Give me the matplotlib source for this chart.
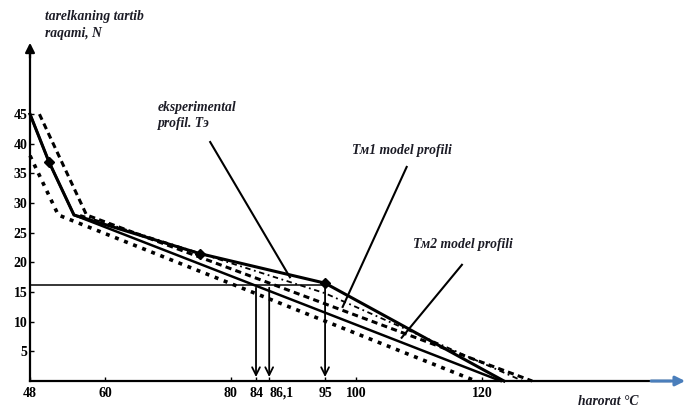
import matplotlib
matplotlib.use("Agg")
from matplotlib import pyplot as plt

# experimental profile (thick solid, diamond markers)
exp_t = [48, 51, 55, 75, 95, 123.5]
exp_n = [45, 37, 28, 21.5, 16.5, 0]
mark_t = [51, 75, 95]
mark_n = [37, 21.5, 16.5]

# second solid line
sol_t = [48, 51, 55, 123]
sol_n = [45, 37, 28, 0]

# model profiles
tm1_t = [49.5, 57, 128]
tm1_n = [45, 28, 0]
tm2_t = [48, 52.5, 119]
tm2_n = [38, 28, 0]
dd_t = [56, 95, 126.5]
dd_n = [28, 14.8, 0]

level_n = 16.2
arrow_t = [84, 86.1, 95]

xticks = [48, 60, 80, 84, 86.1, 95, 100, 120]
xlabels = ["48", "60", "80", "84", "86,1", "95", "100", "120"]
yticks = [5, 10, 15, 20, 25, 30, 35, 40, 45]

ink = "#1c1c26"
serif = "Liberation Serif"

fig = plt.figure(figsize=(6.89, 4.08), dpi=100)
ax = fig.add_axes([0, 0, 1, 1])
ax.set_xlim(43.22, 152.97)
ax.set_ylim(-4.55, 64.25)

for s in ["top", "right"]:
    ax.spines[s].set_visible(False)
ax.spines["left"].set_position(("data", 48))
ax.spines["bottom"].set_position(("data", 0))
ax.spines["left"].set_bounds(0, 55)
ax.spines["bottom"].set_bounds(48, 150)
ax.spines["left"].set_linewidth(1.6)
ax.spines["bottom"].set_linewidth(1.6)

ax.set_xticks(xticks)
ax.set_xticklabels(xlabels, fontfamily=serif, fontsize=10, fontweight="bold")
for lab in ax.get_xticklabels():
    if lab.get_text() == "86,1":
        lab.set_horizontalalignment("left")
ax.set_yticks(yticks)
ax.set_yticklabels([str(v) for v in yticks], fontfamily=serif, fontsize=10,
                   fontweight="bold")
ax.tick_params(axis="x", direction="in", length=3, width=1, pad=4)
ax.tick_params(axis="y", direction="in", length=3, width=1, pad=2)

# axis arrows
ax.annotate("", xy=(48, 57.5), xytext=(48, 54),
            arrowprops=dict(arrowstyle="-|>", color="black", lw=1.6,
                            mutation_scale=14))
ax.annotate("", xy=(152.8, 0), xytext=(146.5, 0),
            arrowprops=dict(arrowstyle="-|>", color="#4a7ebb", lw=2.2,
                            mutation_scale=14))

# curves
ax.plot(tm2_t, tm2_n, color="black", lw=2.6, linestyle=(0, (1.1, 1.6)))
ax.plot(tm1_t, tm1_n, color="black", lw=2.2, linestyle=(0, (2.0, 1.4)))
ax.plot(dd_t, dd_n, color="black", lw=1.3, linestyle=(0, (3, 2, 1, 2)))
ax.plot(sol_t, sol_n, color="black", lw=1.8)
ax.plot(exp_t, exp_n, color="black", lw=2.2)
ax.plot(mark_t, mark_n, linestyle="none", marker="D", markersize=5,
        color="black")

# level line and arrows down to axis
ax.plot([48, 95], [level_n, level_n], color="black", lw=1.1)
for t in arrow_t:
    ax.annotate("", xy=(t, 0.2), xytext=(t, level_n),
                arrowprops=dict(arrowstyle="->", color="black", lw=1.3,
                                mutation_scale=14))

# leader lines
ax.plot([76.7, 89.4], [40.3, 17.5], color="black", lw=1.5)
ax.plot([108.0, 97.8], [36.1, 12.5], color="black", lw=1.5)
ax.plot([116.8, 107.2], [19.6, 7.3], color="black", lw=1.5)

tkw = dict(fontfamily=serif, fontsize=9.8, fontweight="bold",
           fontstyle="italic", color=ink, va="top", ha="left",
           linespacing=1.35)
ax.text(50.4, 62.5, "tarelkaning tartib\nraqami, N", **tkw)
ax.text(68.4, 47.3, "eksperimental\nprofil. Tэ", **tkw)
ax.text(99.3, 39.9, "Тм1 model profili", **tkw)
ax.text(109.0, 24.2, "Тм2 model profili", **tkw)
ax.text(135.3, -2.3, "harorat °C", **tkw)

fig.savefig("out.png", dpi=100)
